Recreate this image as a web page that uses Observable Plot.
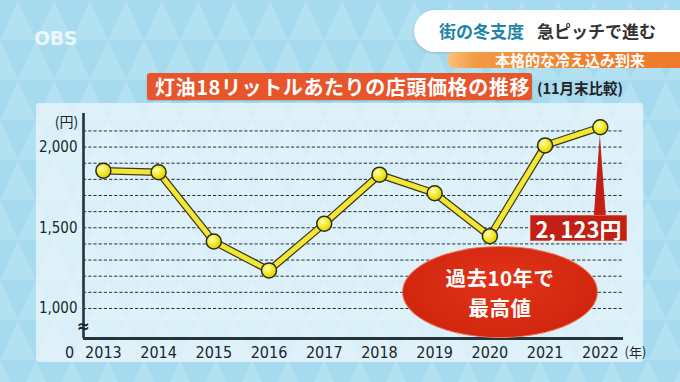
<!DOCTYPE html>
<html><head><meta charset="utf-8">
<script src="https://cdn.jsdelivr.net/npm/d3@7"></script>
<script src="https://cdn.jsdelivr.net/npm/@observablehq/plot@0.6"></script>
<style>
html,body{margin:0;padding:0;}
body{width:680px;height:382px;overflow:hidden;}
#wrap{position:relative;width:680px;height:382px;overflow:hidden;background-color:#a6daee;
background-image:url("data:image/svg+xml,%3Csvg xmlns='http://www.w3.org/2000/svg' width='36' height='80'%3E%3Cpolygon points='0,40 18,0 36,40' fill='%23b2e1f2'/%3E%3Cpolygon points='-18,80 0,40 18,80' fill='%23b2e1f2'/%3E%3Cpolygon points='18,80 36,40 54,80' fill='%23b2e1f2'/%3E%3C/svg%3E");
font-family:"Noto Sans CJK JP",sans-serif;}
.abs{position:absolute;}
#panel{left:36px;top:103px;width:607px;height:259px;background:rgba(255,255,255,0.58);border-radius:3px;}
#logo{left:34px;top:27px;font:bold 19px "DejaVu Sans",sans-serif;color:rgba(255,255,255,0.75);letter-spacing:-0.5px;}
#pill{left:414px;top:10px;width:290px;height:42px;background:#fff;border-radius:21px 0 0 21px;box-shadow:0 1px 3px rgba(0,0,0,0.15);}
#pill span{position:absolute;top:0;line-height:42px;font-size:17px;font-weight:bold;white-space:nowrap;}
#sub{left:447px;top:52px;width:240px;height:16px;border-radius:8px 0 0 8px;background:linear-gradient(90deg,#f9c27a 0%,#f39a45 12%,#f07e2e 60%,#ef7a2c 100%);}
#sub span{position:absolute;left:48px;top:0;line-height:16px;font-size:15px;font-weight:bold;color:#fff;white-space:nowrap;}
#title{left:147px;top:73px;width:385px;height:27px;background:#e8552b;border-radius:3px;box-shadow:0 1px 2px rgba(0,0,0,0.2);}
#title span{position:absolute;left:8px;top:0;line-height:27px;font-size:20px;font-weight:bold;color:#fff;letter-spacing:0.6px;white-space:nowrap;}
#note{left:537px;top:78px;line-height:20px;font-size:14.5px;font-weight:bold;color:#222;white-space:nowrap;}
#chart{left:0;top:0;}
#box{left:530px;top:215px;width:97px;height:26px;background:#c21f16;border:1px solid #e4553a;box-sizing:border-box;display:flex;align-items:center;justify-content:center;}
#box span{font-size:22px;font-weight:bold;color:#fff;line-height:26px;white-space:nowrap;}
#ellipse{left:402px;top:246px;width:196px;height:92px;border-radius:50%;background:radial-gradient(ellipse at 50% 40%,#e2341a 0%,#d2260f 70%,#c81f0c 100%);border:1.5px solid #f07a5a;box-sizing:border-box;display:flex;flex-direction:column;align-items:center;justify-content:center;color:#fff;font-weight:bold;font-size:20.5px;}
#ellipse div{height:30px;line-height:30px;white-space:nowrap;letter-spacing:0.5px;}
</style></head>
<body>
<div id="wrap">
  <div id="panel" class="abs"></div>
  <div id="logo" class="abs">OBS</div>
  <div id="pill" class="abs"><span style="left:25px;color:#1d86a6">街の冬支度</span><span style="left:123px;color:#333">急ピッチで進む</span></div>
  <div id="sub" class="abs"><span>本格的な冷え込み到来</span></div>
  <div id="title" class="abs"><span>灯油18リットルあたりの店頭価格の推移</span></div>
  <div id="note" class="abs">(11月末比較)</div>
  <div id="chart" class="abs"></div>
  <div id="box" class="abs"><span></span></div>
  <div id="ellipse" class="abs"><div>過去10年で</div><div>最高値</div></div>
</div>
<script>
const years = [2013, 2014, 2015, 2016, 2017, 2018, 2019, 2020, 2021, 2022];
const prices = [1854, 1844, 1415, 1236, 1525, 1829, 1714, 1448, 2010, 2123];
const yTickValues = [1000, 1500, 2000];
const gridValues = [1000, 1100, 1200, 1300, 1400, 1500, 1600, 1700, 1800, 1900, 2000, 2100];
const xDomain = [2012.64, 2022.42];
const yDomain = [814, 2208];

const data = years.map((year, i) => ({year, price: prices[i]}));
const axisFont = '"Liberation Sans Narrow","DejaVu Sans Condensed","Arial Narrow",sans-serif';

const chart = Plot.plot({
  width: 680, height: 382,
  marginTop: 113, marginBottom: 44, marginLeft: 83, marginRight: 57,
  style: {background: "transparent", color: "#1c262b", fontFamily: axisFont, overflow: "visible"},
  x: {domain: xDomain},
  y: {domain: yDomain},
  marks: [
    Plot.ruleY(gridValues, {stroke: "#27313a", strokeWidth: 1, strokeDasharray: "3.2,2"}),
    Plot.ruleX([xDomain[0]], {y1: yDomain[0], y2: yDomain[1], stroke: "#25343b", strokeWidth: 2.6}),
    Plot.ruleY([yDomain[0]], {stroke: "#25343b", strokeWidth: 3}),
    Plot.axisY(yTickValues, {tickSize: 0, tickPadding: 6, tickFormat: d3.format(","), fontSize: 15, label: null}),
    Plot.axisX(years, {tickSize: 0, tickPadding: 8, tickFormat: d => String(d), fontSize: 16, label: null}),
    Plot.text(["(円)"], {text: d => d, frameAnchor: "top-left", dx: -17, dy: 9, textAnchor: "middle", lineAnchor: "middle", fontSize: 14, fontFamily: '"Noto Sans CJK JP",sans-serif'}),
    Plot.text(["0"], {text: d => d, frameAnchor: "bottom-left", dx: -14, dy: 14, textAnchor: "middle", lineAnchor: "middle", fontSize: 16}),
    Plot.text(["(年)"], {text: d => d, frameAnchor: "bottom-right", dx: 12, dy: 14, textAnchor: "middle", lineAnchor: "middle", fontSize: 13, fontFamily: '"Noto Sans CJK JP",sans-serif'}),
    Plot.text(["≈"], {text: d => d, frameAnchor: "bottom-left", dy: -12, textAnchor: "middle", lineAnchor: "middle", fontSize: 17, fontWeight: "bold"}),
    Plot.line(data, {x: "year", y: "price", stroke: "#3a3920", strokeWidth: 7.5}),
    Plot.line(data, {x: "year", y: "price", stroke: "#f3e734", strokeWidth: 5}),
    Plot.dot(data, {x: "year", y: "price", r: 7.5, fill: "url(#dotGrad)", stroke: "#2c2c1c", strokeWidth: 1.5})
  ]
});

const ns = "http://www.w3.org/2000/svg";
const defs = document.createElementNS(ns, "defs");
defs.innerHTML = '<radialGradient id="dotGrad" cx="0.38" cy="0.35" r="0.7"><stop offset="0" stop-color="#fffcd8"/><stop offset="0.4" stop-color="#f8f03c"/><stop offset="1" stop-color="#dccc00"/></radialGradient>';
chart.insertBefore(defs, chart.firstChild);

// pointer from callout box to the latest point
const sx = chart.scale("x"), sy = chart.scale("y");
const lastIdx = years.length - 1;
const px = sx.apply(years[lastIdx]), py = sy.apply(prices[lastIdx]);
const poly = document.createElementNS(ns, "polygon");
poly.setAttribute("points", `${px},${py + 8} ${px - 6},${216} ${px + 6},${216}`);
poly.setAttribute("fill", "#c21f16");
chart.appendChild(poly);

document.getElementById("chart").appendChild(chart);
document.querySelector("#box span").textContent = d3.format(",")(prices[lastIdx]).replace(",", ", ") + "円";
</script>
</body></html>
